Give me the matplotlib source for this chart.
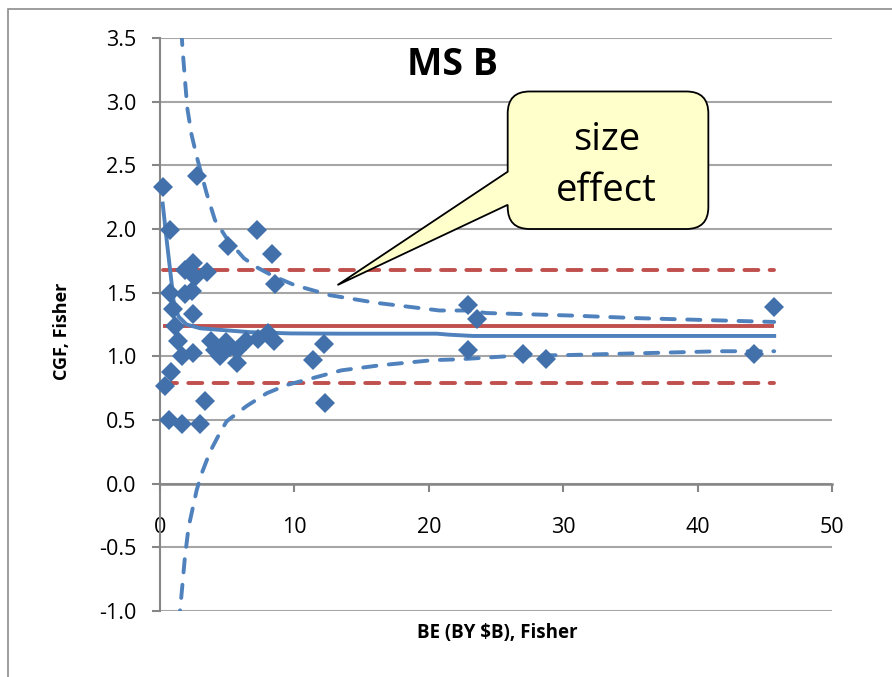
import matplotlib
matplotlib.use("Agg")
import matplotlib.pyplot as plt
from matplotlib.path import Path
from matplotlib.patches import PathPatch, Rectangle

plt.rcParams["font.family"] = ["Open Sans", "DejaVu Sans"]
plt.rcParams["axes.unicode_minus"] = False

# Scatter: business entity size vs. CGF
be_size = [0.2, 0.37, 0.67, 0.74, 0.74, 0.8, 1.0, 1.15, 1.36, 1.6, 1.66, 1.86,
           1.85, 2.35, 2.48, 2.6, 2.48, 2.48, 2.78, 2.98, 3.35, 3.47, 3.8, 4.1,
           4.5, 4.9, 5.03, 5.2, 5.7, 5.7, 6.4, 7.19, 7.3, 8.06, 8.35, 8.45,
           8.57, 11.4, 12.2, 12.3, 22.9, 23.6, 22.9, 27.0, 28.7, 44.2, 45.7]
cgf = [2.33, 0.77, 0.50, 1.99, 1.50, 0.88, 1.37, 1.24, 1.12, 1.00, 0.47, 1.68,
       1.49, 1.51, 1.73, 1.62, 1.33, 1.03, 2.42, 0.47, 0.65, 1.66, 1.12, 1.05,
       1.00, 1.11, 1.87, 1.07, 1.05, 0.95, 1.12, 1.99, 1.14, 1.18, 1.80, 1.12,
       1.57, 0.97, 1.10, 0.63, 1.40, 1.29, 1.05, 1.02, 0.98, 1.02, 1.385]

# Overall mean and control limits
mean_level = 1.235
upper_limit = 1.68
lower_limit = 0.79
limit_span = [0.2, 45.7]

# Running mean by size
run_x = [0.2, 0.5, 0.87, 1.05, 1.4, 1.98, 3.0, 4.2, 6.7, 9.7, 13.4, 20.6, 21.5, 23.3, 45.7]
run_y = [2.2, 1.91, 1.57, 1.40, 1.31, 1.25, 1.22, 1.21, 1.19, 1.18, 1.178, 1.178, 1.17, 1.16, 1.16]

# Funnel bounds
up_x = [1.5, 1.66, 1.86, 2.03, 2.35, 2.73, 3.47, 4.09, 5.0, 6.25, 7.19, 8.43, 10.0,
        12.65, 16.1, 20.8, 22.8, 24.3, 30.7, 35.5, 45.7]
up_y = [3.75, 3.44, 3.17, 2.95, 2.74, 2.57, 2.28, 2.07, 1.92, 1.77, 1.70, 1.63, 1.56,
        1.48, 1.42, 1.36, 1.36, 1.34, 1.32, 1.30, 1.27]
lo_x = [1.45, 1.49, 1.86, 2.13, 2.73, 3.1, 3.72, 4.46, 4.96, 6.45, 7.94, 9.43, 11.4,
        13.5, 16.4, 20.3, 22.3, 24.3, 26.5, 30.3, 41.7, 45.7]
lo_y = [-1.3, -1.0, -0.57, -0.34, -0.05, 0.08, 0.25, 0.40, 0.49, 0.61, 0.71, 0.775,
        0.83, 0.89, 0.93, 0.97, 0.977, 0.99, 1.005, 1.01, 1.04, 1.04]

x_ticks = [0, 10, 20, 30, 40, 50]
y_ticks = [-1.0, -0.5, 0.0, 0.5, 1.0, 1.5, 2.0, 2.5, 3.0, 3.5]

RED = "#C0504D"
BLUE = "#4F81BD"
MARK = "#4170AB"
GRID = "#A6A6A6"
AXIS = "#868686"

fig = plt.figure(figsize=(8.92, 6.77), dpi=100)
ax = fig.add_axes([160 / 892, 1 - 611 / 677, 672 / 892, 573 / 677])

# outer chart frame
fig.patches.append(Rectangle((8 / 892, -0.2), 1.2, 1.2 - 9 / 677,
                             transform=fig.transFigure, fill=False,
                             edgecolor="#8C8C8C", linewidth=1.2))

ax.set_xlim(0, 50)
ax.set_ylim(-1.0, 3.5)
ax.set_xticks(x_ticks)
ax.set_yticks(y_ticks)
ax.set_yticklabels([f"{v:.1f}" for v in y_ticks])
ax.set_xticklabels([str(v) for v in x_ticks])

ax.yaxis.grid(True, color=GRID, linewidth=1.5)
ax.set_axisbelow(True)
for s in ["top", "right"]:
    ax.spines[s].set_visible(False)
ax.spines["bottom"].set_position(("data", 0))
ax.spines["bottom"].set_color(AXIS)
ax.spines["bottom"].set_linewidth(1.8)
ax.spines["left"].set_color(AXIS)
ax.spines["left"].set_linewidth(1.5)
ax.tick_params(axis="x", direction="out", length=6, width=1.5, color=AXIS,
               pad=18, labelsize=15.5)
ax.tick_params(axis="y", direction="out", length=6, width=1.5, color=AXIS,
               pad=11, labelsize=15.5)

# control limits
ax.plot(limit_span, [mean_level, mean_level], color=RED, lw=2.8, zorder=3,
        solid_capstyle="butt")
for lim in (upper_limit, lower_limit):
    ax.plot(limit_span, [lim, lim], color=RED, lw=2.8, zorder=3,
            dashes=(3.6, 2.9), dash_capstyle="round")

# funnel bounds and running mean
ax.plot(up_x, up_y, color=BLUE, lw=2.8, dashes=(3.4, 3.2), dash_capstyle="round", zorder=3)
ax.plot(lo_x, lo_y, color=BLUE, lw=2.8, dashes=(3.4, 3.2), dash_capstyle="round", zorder=3)
ax.plot(run_x, run_y, color=BLUE, lw=2.8, zorder=3)

# data points
ax.plot(be_size, cgf, linestyle="none", marker="D", markersize=10.5,
        color=MARK, markeredgewidth=0, zorder=4, clip_on=False)

# callout box with pointer
bx0, bx1, by0, by1 = 25.87, 40.8, 2.0, 3.08
rx, ry = 22 / 13.44, 22 / 127.33
tip = (13.21, 1.56)
base_top, base_bot = 2.45, 2.19
verts = [
    (bx0 + rx, by0), (bx1 - rx, by0),
    (bx1, by0), (bx1, by0 + ry),
    (bx1, by1 - ry),
    (bx1, by1), (bx1 - rx, by1),
    (bx0 + rx, by1),
    (bx0, by1), (bx0, by1 - ry),
    (bx0, base_top), tip, (bx0, base_bot),
    (bx0, by0 + ry),
    (bx0, by0), (bx0 + rx, by0),
    (bx0 + rx, by0),
]
codes = [Path.MOVETO, Path.LINETO,
         Path.CURVE3, Path.CURVE3,
         Path.LINETO,
         Path.CURVE3, Path.CURVE3,
         Path.LINETO,
         Path.CURVE3, Path.CURVE3,
         Path.LINETO, Path.LINETO, Path.LINETO,
         Path.LINETO,
         Path.CURVE3, Path.CURVE3,
         Path.CLOSEPOLY]
ax.add_patch(PathPatch(Path(verts, codes), facecolor="#FFFFCC", edgecolor="black",
                       linewidth=1.3, zorder=6, clip_on=False))
ax.text(33.24, 2.62, "size", ha="center", va="baseline", fontsize=27.5, zorder=7)
ax.text(33.24, 2.22, "effect", ha="center", va="baseline", fontsize=27.5, zorder=7)

# titles
fig.text(453 / 892, 1 - 75 / 677, "MS B", ha="center", va="baseline",
         fontsize=27, fontweight="bold")
fig.text(497 / 892, 1 - 633 / 677, "BE (BY $B), Fisher", ha="center", va="center",
         fontsize=13.5, fontweight="bold")
fig.text(62 / 892, 1 - 331 / 677, "CGF, Fisher", ha="center", va="center",
         rotation=90, fontsize=13, fontweight="bold")

fig.savefig("out.png", dpi=100)
